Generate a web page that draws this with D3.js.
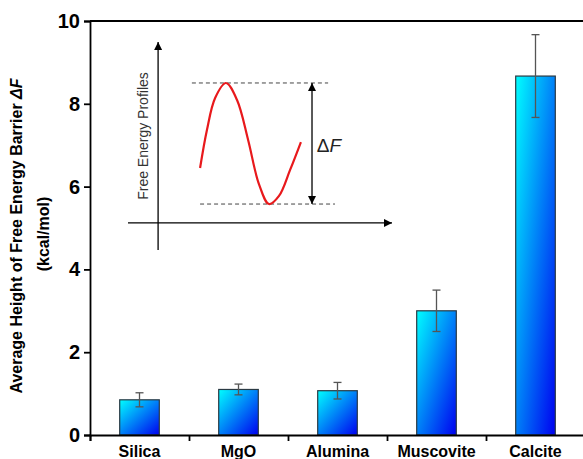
<!DOCTYPE html>
<html>
<head>
<meta charset="UTF-8">
<title>Free Energy Barrier</title>
<style>
  body { margin: 0; background: #fff; }
  svg { display: block; background: #fff; font-family: "Liberation Sans", Arial, sans-serif; }
</style>
</head>
<body>
<div id="chart"></div>
<script src="https://cdn.jsdelivr.net/npm/d3@7"></script>
<script>
// data
const categories = ["Silica", "MgO", "Alumina", "Muscovite", "Calcite"];
const barrier = [0.85, 1.10, 1.07, 3.00, 8.67];
const errors = [0.17, 0.13, 0.20, 0.50, 1.00];
const yTicks = [0, 2, 4, 6, 8, 10];

// inset schematic (arbitrary units 0..100)
const profileX = [27.3, 29.9, 33.0, 37.1, 41.3, 45.5, 49.6, 53.4, 57.2, 61.4, 65.5];
const profileY = [39.4, 57.7, 73.1, 80.3, 72.1, 52.9, 31.7, 22.1, 26.0, 38.5, 51.9];

const W = 583, H = 459;
const margin = {top: 21, right: -2, bottom: 24, left: 90};
const width = W - margin.left - margin.right,
      height = H - margin.top - margin.bottom;

const svg = d3.select("#chart").append("svg")
  .attr("width", W).attr("height", H);

const defs = svg.append("defs");
const grad = defs.append("linearGradient")
  .attr("id", "barGrad")
  .attr("x1", 0).attr("y1", 0).attr("x2", 1).attr("y2", 1);
grad.append("stop").attr("offset", "0%").attr("stop-color", "#00ffff");
grad.append("stop").attr("offset", "100%").attr("stop-color", "#0000f0");

const g = svg.append("g")
  .attr("transform", "translate(" + margin.left + "," + margin.top + ")");

const x = d3.scaleBand().domain(categories).range([0, width]).paddingInner(0.6).paddingOuter(0.3);
const xb = d3.scaleLinear().domain([0, categories.length]).range([0, width]);
const y = d3.scaleLinear().domain([0, 10]).range([height, 0]);

// bars
g.selectAll(".bar")
  .data(categories)
  .enter().append("rect")
  .attr("class", "bar")
  .attr("x", d => x(d))
  .attr("y", (d, i) => y(barrier[i]))
  .attr("width", x.bandwidth())
  .attr("height", (d, i) => y(0) - y(barrier[i]))
  .attr("fill", "url(#barGrad)")
  .attr("stroke", "#2a3a44")
  .attr("stroke-width", 1.2);

// error bars
const eb = g.selectAll(".err").data(categories).enter().append("g")
  .attr("class", "err")
  .attr("stroke", "#555")
  .attr("stroke-width", 1.3);
eb.append("line")
  .attr("x1", d => x(d) + x.bandwidth() / 2).attr("x2", d => x(d) + x.bandwidth() / 2)
  .attr("y1", (d, i) => y(barrier[i] + errors[i])).attr("y2", (d, i) => y(barrier[i] - errors[i]));
eb.append("line")
  .attr("x1", d => x(d) + x.bandwidth() / 2 - 4).attr("x2", d => x(d) + x.bandwidth() / 2 + 4)
  .attr("y1", (d, i) => y(barrier[i] + errors[i])).attr("y2", (d, i) => y(barrier[i] + errors[i]));
eb.append("line")
  .attr("x1", d => x(d) + x.bandwidth() / 2 - 4).attr("x2", d => x(d) + x.bandwidth() / 2 + 4)
  .attr("y1", (d, i) => y(barrier[i] - errors[i])).attr("y2", (d, i) => y(barrier[i] - errors[i]));

// frame top
g.append("line").attr("x1", 0).attr("x2", width).attr("y1", 0).attr("y2", 0)
  .attr("stroke", "#000").attr("stroke-width", 1.8);

// y axis
const yAxis = g.append("g")
  .call(d3.axisLeft(y).tickValues(yTicks).tickSize(6).tickPadding(4));
yAxis.select(".domain").attr("stroke-width", 1.8);
yAxis.selectAll(".tick line").attr("stroke-width", 1.8);
yAxis.selectAll("text").attr("font-size", 20).attr("font-weight", "bold")
  .attr("font-family", "Liberation Sans, Arial, sans-serif").attr("fill", "#000");

// x axis: ticks at category boundaries, labels centered
const xAxis = g.append("g").attr("transform", "translate(0," + height + ")")
  .call(d3.axisBottom(xb).tickValues(d3.range(0, categories.length + 1)).tickSize(6).tickFormat(""));
xAxis.select(".domain").attr("stroke-width", 1.8);
xAxis.selectAll(".tick line").attr("stroke-width", 1.8);
g.selectAll(".xlab").data(categories).enter().append("text")
  .attr("x", d => x(d) + x.bandwidth() / 2)
  .attr("y", height + 22)
  .attr("text-anchor", "middle")
  .attr("font-size", 16).attr("font-weight", "bold")
  .text(d => d);

// y title
const yt = svg.append("text")
  .attr("transform", "translate(22,236) rotate(-90)")
  .attr("text-anchor", "middle")
  .attr("font-size", 16).attr("font-weight", "bold");
yt.append("tspan").text("Average Height of Free Energy Barrier ");
yt.append("tspan").attr("font-style", "italic").text("\u0394F");
svg.append("text")
  .attr("transform", "translate(49,234) rotate(-90)")
  .attr("text-anchor", "middle")
  .attr("font-size", 16).attr("font-weight", "bold")
  .text("(kcal/mol)");

// inset schematic
const ix = d3.scaleLinear().domain([0, 100]).range([128, 392]);
const iy = d3.scaleLinear().domain([0, 100]).range([250, 42]);
const inset = svg.append("g");
defs.append("marker").attr("id", "ah").attr("viewBox", "0 0 10 10")
  .attr("refX", 10).attr("refY", 5).attr("markerWidth", 10).attr("markerHeight", 8)
  .attr("markerUnits", "userSpaceOnUse").attr("orient", "auto-start-reverse")
  .append("path").attr("d", "M0,0 L10,5 L0,10 Z").attr("fill", "#000");

inset.append("line")
  .attr("x1", ix(11.4)).attr("x2", ix(11.4)).attr("y1", iy(0)).attr("y2", iy(100))
  .attr("stroke", "#000").attr("stroke-width", 1.3).attr("marker-end", "url(#ah)");
inset.append("line")
  .attr("x1", ix(0)).attr("x2", ix(100)).attr("y1", iy(13)).attr("y2", iy(13))
  .attr("stroke", "#000").attr("stroke-width", 1.3).attr("marker-end", "url(#ah)");
inset.append("text")
  .attr("transform", "translate(" + (ix(11.4) - 10) + "," + iy(54.8) + ") rotate(-90)")
  .attr("text-anchor", "middle").attr("font-size", 14).attr("fill", "#333")
  .text("Free Energy Profiles");

inset.append("line")
  .attr("x1", ix(24.2)).attr("x2", ix(75.8)).attr("y1", iy(80.3)).attr("y2", iy(80.3))
  .attr("stroke", "#444").attr("stroke-width", 1).attr("stroke-dasharray", "4,3");
inset.append("line")
  .attr("x1", ix(27.3)).attr("x2", ix(78.4)).attr("y1", iy(22.1)).attr("y2", iy(22.1))
  .attr("stroke", "#444").attr("stroke-width", 1).attr("stroke-dasharray", "4,3");
inset.append("line")
  .attr("x1", ix(69.7)).attr("x2", ix(69.7)).attr("y1", iy(80.3)).attr("y2", iy(22.1))
  .attr("stroke", "#000").attr("stroke-width", 1.3)
  .attr("marker-start", "url(#ah)").attr("marker-end", "url(#ah)");

const curve = d3.line().x(d => ix(d[0])).y(d => iy(d[1])).curve(d3.curveCatmullRom);
inset.append("path")
  .attr("d", curve(d3.zip(profileX, profileY)))
  .attr("fill", "none").attr("stroke", "#e8191c").attr("stroke-width", 2.2);

const df = inset.append("text")
  .attr("x", ix(71.5)).attr("y", iy(47))
  .attr("font-size", 19).attr("fill", "#222");
df.append("tspan").text("\u0394");
df.append("tspan").attr("font-style", "italic").text("F");
</script>
</body>
</html>
